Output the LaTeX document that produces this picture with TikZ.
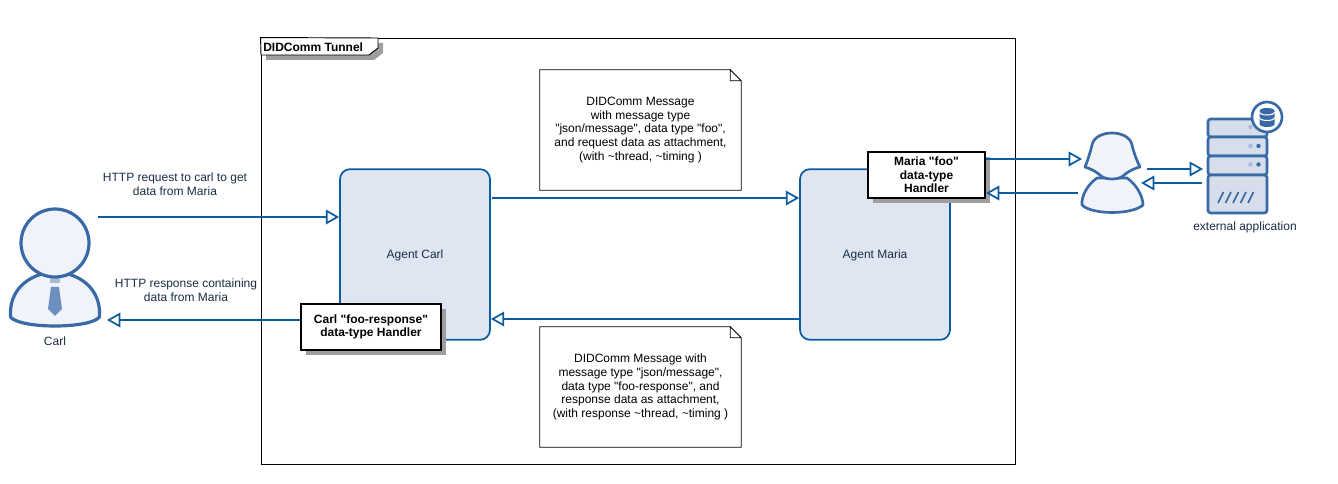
\documentclass[tikz,border=0pt]{standalone}
\usepackage{fontspec}
\setmainfont[Ligatures=TeXOff]{Liberation Sans}
\usetikzlibrary{arrows.meta,calc,shadows}
\definecolor{linkblue}{HTML}{0B5CA0}
\definecolor{iconblue}{HTML}{3A6AA6}
\definecolor{iconfill}{HTML}{F0F3F9}
\definecolor{agentfill}{HTML}{DFE6F2}
\definecolor{serverfill}{HTML}{D6DEEB}
\definecolor{tiefill}{HTML}{6C8FBD}
\definecolor{dotfill}{HTML}{A9BAD4}
\definecolor{navytext}{HTML}{1A2C44}
\tikzstyle{line} = [draw=linkblue, line width=1.3pt, -{Triangle[fill=white, length=10pt, width=11pt, line width=1.3pt]}]
\tikzstyle{agent} = [draw=linkblue, fill=agentfill, line width=1.3pt, rectangle, rounded corners=7.5pt, minimum width=112.5pt, minimum height=128pt, inner sep=0pt, align=center, text=navytext, text depth=0pt]
\tikzstyle{handler} = [draw=black, fill=white, line width=1.5pt, rectangle, inner sep=0pt, align=center, font=\fontsize{9}{10.2}\selectfont\bfseries, drop shadow={shadow xshift=3.5pt, shadow yshift=-3.5pt, fill=black!38, opacity=1}]
\tikzstyle{note} = [rectangle, minimum width=150.75pt, minimum height=90pt, inner sep=0pt, align=center]
\tikzstyle{caption} = [inner sep=0pt, align=center, text=navytext]
\tikzstyle{iconbox} = [rectangle, inner sep=0pt]
\tikzstyle{iconline} = [draw=iconblue, fill=iconfill, line width=2pt, line join=round]
\tikzstyle{rack} = [draw=iconblue, fill=serverfill, line width=2pt, rounded corners=2pt]
\newcommand{\foldnote}[1]{
  \draw[line width=0.6pt] ($(#1.north east)+(-11,0)$) -- (#1.north west) -- (#1.south west) -- (#1.south east) -- ($(#1.north east)+(0,11)$) -- ($(#1.north east)+(-11,0)$) -- ($(#1.north east)+(-11,11)$) -- ($(#1.north east)+(0,11)$);
}
\begin{document}
\begin{tikzpicture}[x=0.75pt, y=-0.75pt, font=\fontsize{9}{10.2}\selectfont]
        \useasboundingbox (0,0) rectangle (1338,484);
        % tunnel frame
        \node[rectangle, draw, line width=0.7pt, minimum width=565.5pt, minimum height=319.5pt, inner sep=0pt] (tunnel) at (638,251) {};
        \fill[black!38] (266,43) -- (383,43) -- (383,53) -- (374,60) -- (266,60) -- cycle;
        \draw[fill=white, line width=0.7pt] (tunnel.north west) -- (378,38) -- (378,48) -- (369,55) -- (261,55) -- cycle;
        \node[inner sep=0pt, anchor=west, font=\fontsize{9}{10.2}\selectfont\bfseries] (tunneltitle) at (263,47) {DIDComm Tunnel};
        % agents
        \node[agent] (agentC) at (415,254.5) {Agent Carl};
        \node[agent] (agentM) at (875,254.5) {Agent Maria};
        % notes
        \node[note] (noteA) at (640.5,130) {DIDComm Message\\with message type\\"json/message", data type "foo",\\and request data as attachment,\\(with \textasciitilde thread, \textasciitilde timing )};
        \foldnote{noteA}
        \node[note] (noteB) at (640.5,387) {DIDComm Message with\\message type "json/message",\\data type "foo-response", and\\response data as attachment,\\(with response \textasciitilde thread, \textasciitilde timing )};
        \foldnote{noteB}
        % carl icon
        \node[iconbox, minimum width=68pt, minimum height=90pt] (carl) at (55,267) {};
        \draw[iconline, line width=2.4pt] (10.5,317) .. controls (9,293) and (24,279) .. (42,274) -- (68,274) .. controls (86,279) and (101,293) .. (99.5,317) .. controls (90,329) and (20,329) .. (10.5,317) -- cycle;
        \fill[dotfill] (50,277) rectangle (60,283);
        \fill[tiefill] (51,287) -- (59,287) -- (62,309) -- (55,316) -- (48,309) -- cycle;
        \draw[iconline, line width=2.4pt] (55,243) circle (34);
        \node[caption, below of=carl, node distance=56pt] (carlname) {Carl};
        % maria icon
        \node[iconbox, minimum width=47pt, minimum height=60pt] (maria) at (1112,173) {};
        \draw[iconline] (1097,178) .. controls (1088,184) and (1081,196) .. (1082,205) .. controls (1092,215) and (1132,215) .. (1143,205) .. controls (1143,196) and (1136,184) .. (1127,178) -- cycle;
        \draw[iconline] (1085,167) .. controls (1089,157) and (1091,149) .. (1092,145) .. controls (1095,129) and (1129,129) .. (1132,145) .. controls (1133,149) and (1135,157) .. (1140,167) .. controls (1132,169) and (1126,173) .. (1123,176) .. controls (1118,180) and (1106,180) .. (1101,176) .. controls (1098,173) and (1092,169) .. (1085,167) -- cycle;
        % server icon
        \node[iconbox, minimum width=44pt, minimum height=71pt] (server) at (1237.5,165.5) {};
        \draw[rack] (1208,119) rectangle (1267,137);
        \draw[rack] (1208,137) rectangle (1267,156);
        \draw[rack] (1208,156) rectangle (1267,175);
        \draw[rack] (1208,175) rectangle (1267,213);
        \foreach \rowy in {127,146,164.5}
            \fill[dotfill] (1250.5,\rowy) circle (2.2);
        \foreach \rowy in {146,164.5}
            \fill[iconblue] (1258.5,\rowy) circle (2.2);
        \foreach \slashx in {1218,1225.5,1233,1240.5,1248}
            \draw[iconblue, line width=1.2pt] (\slashx,203) -- +(5.5,-11);
        \draw[draw=iconblue, fill=white, line width=2pt] (1267,117) circle (15);
        \fill[iconblue] (1259.5,111) .. controls (1259.5,107) and (1274.5,107) .. (1274.5,111) -- (1274.5,124) .. controls (1274.5,128) and (1259.5,128) .. (1259.5,124) -- cycle;
        \foreach \disky in {112,117.5}{
            \draw[white, line width=0.8pt] (1259.5,\disky) .. controls (1259.5,\disky+4) and (1274.5,\disky+4) .. (1274.5,\disky);
        }
        \node[caption] (servername) at (1245,227) {external application};
        % connectors
        \coordinate (carlout) at (98,217);
        \coordinate (carlin) at (107,320);
        \path[line] (carlout) -- (agentC.west |- carlout);
        \node[caption, text=navytext] (asklabel) at (175,184) {HTTP request to carl to get\\data from Maria};
        \node[caption, text=navytext] (replylabel) at (186,290) {HTTP response containing\\data from Maria};
        \coordinate (msgtop) at (492,198);
        \coordinate (msgbottom) at (800,319);
        \path[line] (msgtop) -- (agentM.west |- msgtop);
        \path[line] (msgbottom) -- (agentC.east |- msgbottom);
        % handlers
        \node[handler, minimum width=105pt, minimum height=34.5pt] (handlerC) at (371,327) {Carl "foo-response"\\data-type Handler};
        \node[handler, minimum width=87.75pt, minimum height=34.5pt] (handlerM) at (926.5,175) {Maria "foo"\\data-type\\Handler};
        \path[line] (handlerC.west |- carlin) -- (carlin);
        \coordinate (mariain) at (1082,159);
        \coordinate (mariaout) at (1078,193);
        \path[line] (handlerM.east |- mariain) -- (mariain);
        \path[line] (mariaout) -- (handlerM.east |- mariaout);
        \coordinate (mariaup) at (1147,169);
        \coordinate (serverin) at (1203,169);
        \coordinate (serverout) at (1202,183);
        \coordinate (mariadown) at (1141,183);
        \path[line] (mariaup) -- (serverin);
        \path[line] (serverout) -- (mariadown);
    \end{tikzpicture}
\end{document}
